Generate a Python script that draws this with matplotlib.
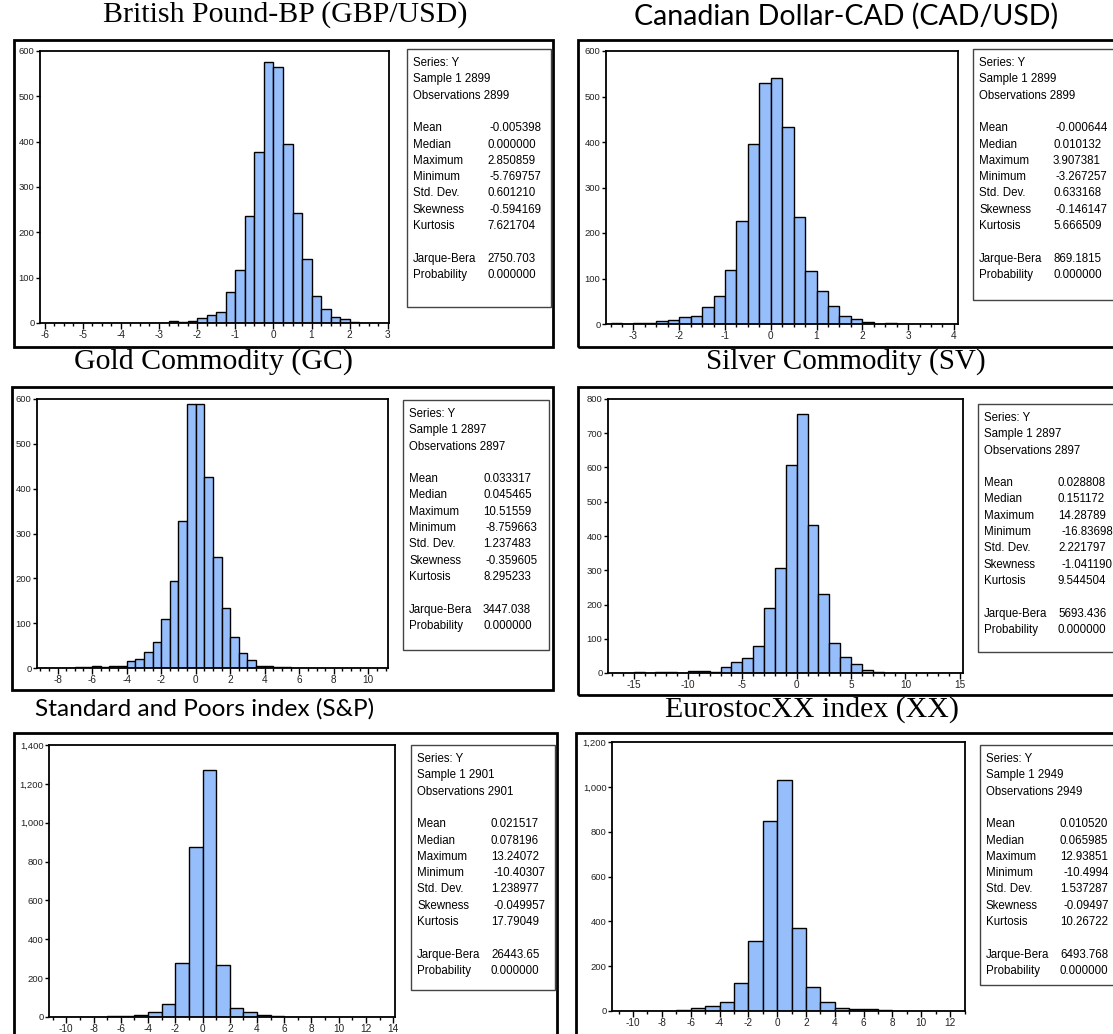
import matplotlib
matplotlib.use("Agg")
import matplotlib.pyplot as plt
import numpy as np
from matplotlib.patches import Rectangle
from matplotlib.ticker import FuncFormatter, MultipleLocator

W, H = 1113, 1034

# ---------------- data ----------------
titles = ["British Pound-BP (GBP/USD)", "Canadian Dollar-CAD (CAD/USD)",
          "Gold Commodity (GC)", "Silver Commodity (SV)",
          "Standard and Poors index (S&P)", "EurostocXX index (XX)"]

gbp_start, gbp_width = -6.0, 0.25
gbp_counts = [1, 0, 0, 0, 0, 0, 0, 0, 0, 0,
              1, 1, 0, 4, 2, 5, 10, 18, 24, 68, 117, 236, 378, 575,
              565, 395, 243, 141, 59, 30, 13, 9, 3, 0, 0, 1]

cad_start, cad_width = -3.5, 0.25
cad_counts = [2, 0, 2, 2, 6, 8, 15, 17, 37, 62, 119, 226, 395, 530,
              541, 433, 236, 117, 72, 39, 17, 12, 5, 1, 2, 1, 1, 0, 0, 1]

gc_start, gc_width = -9.0, 0.5
gc_counts = [1, 0, 1, 0, 2, 2, 5, 2, 4, 5, 16, 19, 35, 59, 110, 194, 327, 588,
             588, 425, 248, 133, 69, 33, 17, 4, 4, 2, 2, 0, 0, 0, 1, 0, 0, 0,
             0, 0, 0, 1]

sv_start, sv_width = -17.0, 1.0
sv_counts = [1, 0, 2, 0, 2, 2, 0, 5, 6, 4, 17, 33, 44, 80, 191, 308, 608,
             756, 433, 231, 89, 47, 26, 8, 3, 0, 0, 0, 0, 0, 0, 1]

sp_start, sp_width = -11.0, 1.0
sp_counts = [1, 1, 1, 1, 3, 7, 12, 27, 67, 278, 873,
             1270, 266, 48, 28, 8, 5, 2, 1, 0, 0, 0, 1, 0, 1]

xx_start, xx_width = -11.0, 1.0
xx_counts = [1, 0, 1, 1, 3, 15, 21, 42, 124, 313, 846,
             1030, 370, 109, 39, 15, 7, 7, 3, 0, 0, 1, 0, 1]

stat_labels = ["Mean", "Median", "Maximum", "Minimum", "Std. Dev.",
               "Skewness", "Kurtosis"]
samples = ["1 2899", "1 2899", "1 2897", "1 2897", "1 2901", "1 2949"]
observations = ["2899", "2899", "2897", "2897", "2901", "2949"]
gbp_stats = ["-0.005398", "0.000000", "2.850859", "-5.769757", "0.601210", "-0.594169", "7.621704"]
cad_stats = ["-0.000644", "0.010132", "3.907381", "-3.267257", "0.633168", "-0.146147", "5.666509"]
gc_stats = ["0.033317", "0.045465", "10.51559", "-8.759663", "1.237483", "-0.359605", "8.295233"]
sv_stats = ["0.028808", "0.151172", "14.28789", "-16.83698", "2.221797", "-1.041190", "9.544504"]
sp_stats = ["0.021517", "0.078196", "13.24072", "-10.40307", "1.238977", "-0.049957", "17.79049"]
xx_stats = ["0.010520", "0.065985", "12.93851", "-10.4994", "1.537287", "-0.09497", "10.26722"]
jarque_bera = ["2750.703", "869.1815", "3447.038", "5693.436", "26443.65", "6493.768"]
probability = ["0.000000"] * 6

# ---------------- layout (pixels) ----------------
panels = [
    dict(start=gbp_start, width=gbp_width, counts=gbp_counts, stats=gbp_stats,
         ax=(40, 51, 389, 323), frame=(14, 40, 553, 347), box=(407, 49, 551, 307),
         xlim=(-6.12, 3.03), ylim=(0, 600), xmaj=1, xmin=0.25, ymaj=100,
         title_xy=(285, 15), serif=True, tsize=21.5),
    dict(start=cad_start, width=cad_width, counts=cad_counts, stats=cad_stats,
         ax=(606, 51, 958, 324), frame=(578, 40, 1125, 347), box=(973, 49, 1125, 300),
         xlim=(-3.6, 4.09), ylim=(0, 600), xmaj=1, xmin=0.25, ymaj=100,
         title_xy=(846, 16), serif=False, tsize=20.5),
    dict(start=gc_start, width=gc_width, counts=gc_counts, stats=gc_stats,
         ax=(37, 399, 388, 668), frame=(12, 387, 553, 690), box=(403, 400, 549, 650),
         xlim=(-9.19, 11.14), ylim=(0, 600), xmaj=2, xmin=0.5, ymaj=100,
         title_xy=(213, 362), serif=True, tsize=21.5),
    dict(start=sv_start, width=sv_width, counts=sv_counts, stats=sv_stats,
         ax=(608, 399, 963, 673), frame=(578, 387, 1125, 695), box=(978, 404, 1125, 652),
         xlim=(-17.36, 15.3), ylim=(0, 800), xmaj=5, xmin=1, ymaj=100,
         title_xy=(846, 362), serif=True, tsize=21.0),
    dict(start=sp_start, width=sp_width, counts=sp_counts, stats=sp_stats,
         ax=(49, 745, 395, 1017), frame=(14, 733, 557, 1045), box=(411, 745, 555, 990),
         xlim=(-11.27, 14.13), ylim=(0, 1400), xmaj=2, xmin=1, ymaj=200,
         title_xy=(205, 709), serif=False, tsize=17.6),
    dict(start=xx_start, width=xx_width, counts=xx_counts, stats=xx_stats,
         ax=(612, 742, 965, 1011), frame=(576, 733, 1125, 1045), box=(980, 745, 1125, 985),
         xlim=(-11.46, 13.03), ylim=(0, 1200), xmaj=2, xmin=1, ymaj=200,
         title_xy=(812, 710), serif=True, tsize=21.5),
]

fig = plt.figure(figsize=(W / 100, H / 100), dpi=100)
fig.patch.set_facecolor("white")


def fx(x):
    return x / W


def fy(y):
    return 1 - y / H


def frect(l, t, r, b, **kw):
    rect = Rectangle((fx(l), fy(b)), (r - l) / W, (b - t) / H,
                     transform=fig.transFigure, fill=False, **kw)
    fig.add_artist(rect)


BAR = "#96BEFA"
SANS = "Liberation Sans"

for i, p in enumerate(panels):
    l, t, r, b = p["ax"]
    ax = fig.add_axes([fx(l), fy(b), (r - l) / W, (b - t) / H])
    counts = np.array(p["counts"], dtype=float)
    edges = p["start"] + p["width"] * np.arange(len(counts))
    ax.bar(edges, counts, width=p["width"], align="edge", color=BAR,
           edgecolor="black", linewidth=1.0)
    ax.set_xlim(*p["xlim"])
    ax.set_ylim(*p["ylim"])
    ax.xaxis.set_major_locator(MultipleLocator(p["xmaj"]))
    ax.xaxis.set_minor_locator(MultipleLocator(p["xmin"]))
    ax.yaxis.set_major_locator(MultipleLocator(p["ymaj"]))
    ax.yaxis.set_major_formatter(FuncFormatter(lambda v, pos: f"{int(round(v)):,}"))
    ax.xaxis.set_major_formatter(FuncFormatter(lambda v, pos: f"{int(round(v))}"))
    ax.tick_params(axis="x", which="major", direction="out", length=4,
                   width=1.0, labelsize=7.2, colors="black", pad=1)
    ax.tick_params(axis="x", which="minor", direction="out", length=2.5, width=1.0)
    ax.tick_params(axis="y", which="major", direction="out", length=3,
                   width=1.0, labelsize=6.8, colors="black", pad=1)
    for sp in ax.spines.values():
        sp.set_linewidth(1.3)
        sp.set_color("black")
    for lab in ax.get_xticklabels() + ax.get_yticklabels():
        lab.set_fontfamily(SANS)
        lab.set_color("#222222")

    # panel frame
    frect(*p["frame"], lw=2.0, ec="black")

    # stats box
    bl, bt, br, bb = p["box"]
    frect(bl, bt, br, bb, lw=1.0, ec="#444444")
    lx = bl + 6
    vx = bl + 80
    step = 16.3
    y0 = bt + 14
    fs = 8.3
    head = ["Series: Y", "Sample " + samples[i], "Observations " + observations[i]]
    for k, s in enumerate(head):
        fig.text(fx(lx), fy(y0 + k * step), s, fontsize=fs, family=SANS,
                 va="center", ha="left")
    for k, (lab, val) in enumerate(zip(stat_labels, p["stats"])):
        yy = y0 + (4 + k) * step
        fig.text(fx(lx), fy(yy), lab, fontsize=fs, family=SANS, va="center", ha="left")
        off = 3 if val.startswith("-") else 0
        fig.text(fx(vx + off), fy(yy), val, fontsize=fs, family=SANS,
                 va="center", ha="left")
    for k, (lab, val) in enumerate([("Jarque-Bera", jarque_bera[i]),
                                     ("Probability", probability[i])]):
        yy = y0 + (12 + k) * step
        fig.text(fx(lx), fy(yy), lab, fontsize=fs, family=SANS, va="center", ha="left")
        fig.text(fx(vx), fy(yy), val, fontsize=fs, family=SANS, va="center", ha="left")

    # title
    tx, ty = p["title_xy"]
    fam = "Liberation Serif" if p["serif"] else "Lato"
    fig.text(fx(tx), fy(ty), titles[i], fontsize=p["tsize"], family=fam,
             ha="center", va="center")

fig.savefig("out.png", dpi=100, facecolor="white")
